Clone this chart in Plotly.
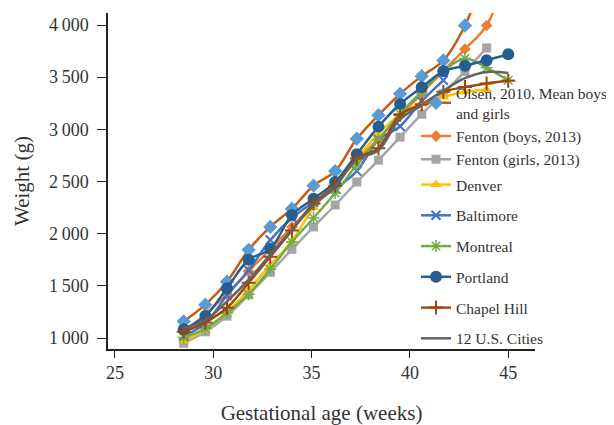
import plotly.graph_objects as go

weeks = [28.5, 29.6, 30.7, 31.8, 32.9, 34.0, 35.1, 36.2, 37.3, 38.4, 39.5, 40.6, 41.7, 42.8, 43.9, 45.0]

olsen = [1160, 1320, 1540, 1845, 2065, 2240, 2460, 2600, 2910, 3135, 3340, 3510, 3660, 3995, 4550, None]
fenton_boys = [1050, 1230, 1420, 1640, 1850, 2065, 2280, 2490, 2700, 2910, 3130, 3345, 3560, 3770, 3995, 4550]
fenton_girls = [950, 1060, 1210, 1415, 1630, 1850, 2065, 2275, 2495, 2705, 2925, 3145, 3345, 3555, 3780, None]
denver = [975, 1080, 1250, 1460, 1700, 1930, 2250, 2470, 2720, 2960, 3140, 3250, 3310, 3360, 3380, None]
baltimore = [1020, 1140, 1410, 1650, 1940, 2150, 2300, 2430, 2600, 2900, 3030, 3270, 3470, None, None, None]
montreal = [1005, 1090, 1240, 1420, 1660, 1920, 2150, 2390, 2660, 2900, 3150, 3360, 3560, 3680, 3590, 3470]
portland = [1085, 1212, 1478, 1750, 1855, 2180, 2335, 2495, 2762, 3026, 3243, 3403, 3556, 3609, 3662, 3719]
chapel_hill = [1060, 1150, 1290, 1530, 1780, 2030, 2290, 2460, 2720, 2820, 3140, 3240, 3360, 3405, 3440, 3465]
us12 = [1100, 1170, 1350, 1560, 1800, 2040, 2270, 2450, 2710, 2800, 3100, 3230, 3370, 3490, 3550, 3540]

x_ticks = [25, 30, 35, 40, 45]
y_ticks = [1000, 1500, 2000, 2500, 3000, 3500, 4000]
y_ticktext = ["1\u2009000", "1\u2009500", "2\u2009000", "2\u2009500", "3\u2009000", "3\u2009500", "4\u2009000"]

series = [
    ("Olsen, 2010, Mean boys<br>and girls", olsen, "#C55A11", dict(symbol="diamond", size=11, color="#5B9BD5"), "legend2", "A"),
    ("Fenton (boys, 2013)", fenton_boys, "#ED7D31", dict(symbol="diamond", size=9, color="#ED7D31"), "legend2", "A"),
    ("Fenton (girls, 2013)", fenton_girls, "#A5A5A5", dict(symbol="square", size=9, color="#A5A5A5"), "legend2", "A"),
    ("Denver", denver, "#FFC000", dict(symbol="triangle-up", size=10, color="#FFC000"), "legend", "B"),
    ("Baltimore", baltimore, "#4472C4", dict(symbol="x-thin-open", size=9, color="#4472C4", line=dict(color="#4472C4", width=2)), "legend", "C"),
    ("Montreal", montreal, "#70AD47", dict(symbol="asterisk-open", size=10, color="#70AD47", line=dict(color="#70AD47", width=1.5)), "legend", "D"),
    ("Portland", portland, "#255E91", dict(symbol="circle", size=12, color="#255E91"), "legend", "E"),
    ("Chapel Hill", chapel_hill, "#9E480E", dict(symbol="cross-thin-open", size=10, color="#9E480E", line=dict(color="#9E480E", width=2)), "legend", "F"),
    ("12 U.S. Cities", us12, "#636363", None, "legend", "G"),
]

fig = go.Figure()
for name, vals, lc, mk, lg, grp in series:
    if mk is None:
        fig.add_trace(go.Scatter(x=weeks, y=vals, name=name, mode="lines",
                                 line=dict(color=lc, width=2.5, shape="spline"),
                                 legend=lg, legendgroup=grp))
    else:
        fig.add_trace(go.Scatter(x=weeks, y=vals, name=name, mode="lines+markers",
                                 line=dict(color=lc, width=2.5, shape="spline"),
                                 marker=mk, legend=lg, legendgroup=grp))

legend_font = dict(family="Liberation Serif", size=15.5, color="#333333")
fig.update_layout(
    width=606, height=417,
    margin=dict(l=100, r=79, t=5, b=76, autoexpand=False),
    paper_bgcolor="white", plot_bgcolor="white",
    font=dict(family="Liberation Serif", color="#333333"),
    legend=dict(x=0.7213, xanchor="left", y=0.5387, yanchor="top",
                font=legend_font, bgcolor="rgba(0,0,0,0)", tracegroupgap=7.6),
    legend2=dict(x=0.7213, xanchor="left", y=0.812, yanchor="top",
                 font=legend_font, bgcolor="rgba(0,0,0,0)", tracegroupgap=0),
)
fig.update_xaxes(range=[24.65, 46.36], tickvals=x_ticks, ticks="outside", ticklen=7,
                 tickcolor="#222222", showline=True, linecolor="#222222", linewidth=1.5,
                 showgrid=False, zeroline=False, tickfont=dict(size=18),
                 ticklabelstandoff=0, automargin=False,
                 title=dict(text="Gestational age (weeks)", font=dict(size=21), standoff=40))
fig.update_yaxes(range=[895, 4115], tickvals=y_ticks, ticktext=y_ticktext, ticks="outside", ticklen=9,
                 tickcolor="#222222", showline=True, linecolor="#222222", linewidth=1.5,
                 showgrid=False, zeroline=False, tickfont=dict(size=18),
                 ticklabelstandoff=5, automargin=False,
                 title=dict(text="Weight (g)", font=dict(size=21), standoff=14))

fig.write_html("out.html")
